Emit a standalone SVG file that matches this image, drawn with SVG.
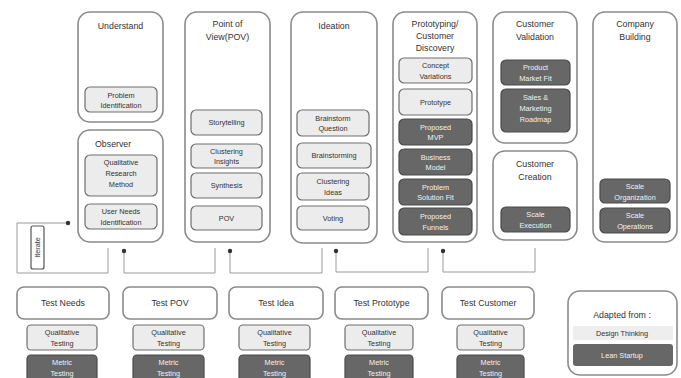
<svg xmlns="http://www.w3.org/2000/svg" width="681" height="378" viewBox="0 0 681 378">
<style>
text{font-family:"Liberation Sans","Open Sans",sans-serif;text-anchor:middle}
.outer{fill:#fff;stroke:#8a8a8a;stroke-width:1.6}
.lt{fill:#ececec;stroke:#6e6e6e;stroke-width:1.2}
.dk{fill:#676767;stroke:#4a4a4a;stroke-width:1.2}
.ttl{font-size:8.8px;fill:#333}
.tl{font-size:7.3px;fill:#333}
.td{font-size:7.3px;fill:#f2f2f2}
.con{fill:none;stroke:#9a9a9a;stroke-width:1}
.dot{fill:#333}
</style>
<rect width="681" height="378" fill="#fff"/>

<g id="understand">
<rect class="outer" x="78" y="12" width="85" height="110" rx="12"/>
<text class="ttl" x="120.5" y="29">Understand</text>
<rect class="lt" x="85" y="87" width="72" height="25" rx="5"/>
<text class="tl" x="121" y="97.5">Problem</text>
<text class="tl" x="121" y="107.5">Identification</text>
</g>

<g id="observer">
<rect class="outer" x="78" y="130" width="85" height="112" rx="12"/>
<text class="ttl" x="95" y="147" style="text-anchor:start">Observer</text>
<rect class="lt" x="85" y="155" width="72" height="41" rx="5"/>
<text class="tl" x="121" y="165">Qualitative</text>
<text class="tl" x="121" y="176">Research</text>
<text class="tl" x="121" y="187">Method</text>
<rect class="lt" x="85" y="204" width="72" height="25" rx="5"/>
<text class="tl" x="121" y="214">User Needs</text>
<text class="tl" x="121" y="224.5">Identification</text>
</g>

<g id="pov">
<rect class="outer" x="185" y="12" width="85" height="230" rx="12"/>
<text class="ttl" x="227.5" y="27">Point of</text>
<text class="ttl" x="227.5" y="40">View(POV)</text>
<rect class="lt" x="191" y="110" width="71" height="25" rx="5"/>
<text class="tl" x="226.5" y="125">Storytelling</text>
<rect class="lt" x="191" y="144" width="71" height="24" rx="5"/>
<text class="tl" x="226.5" y="154">Clustering</text>
<text class="tl" x="226.5" y="164">Insights</text>
<rect class="lt" x="191" y="173" width="71" height="25" rx="5"/>
<text class="tl" x="226.5" y="188">Synthesis</text>
<rect class="lt" x="191" y="206" width="71" height="24" rx="5"/>
<text class="tl" x="226.5" y="221">POV</text>
</g>

<g id="ideation">
<rect class="outer" x="291" y="12" width="86" height="231" rx="12"/>
<text class="ttl" x="334" y="29">Ideation</text>
<rect class="lt" x="297" y="110" width="72" height="26" rx="5"/>
<text class="tl" x="333" y="120.5">Brainstorm</text>
<text class="tl" x="333" y="131">Question</text>
<rect class="lt" x="297" y="143" width="74" height="25" rx="5"/>
<text class="tl" x="334" y="158">Brainstorming</text>
<rect class="lt" x="297" y="173" width="72" height="27" rx="5"/>
<text class="tl" x="333" y="183.5">Clustering</text>
<text class="tl" x="333" y="195">Ideas</text>
<rect class="lt" x="297" y="206" width="72" height="24" rx="5"/>
<text class="tl" x="333" y="221">Voting</text>
</g>

<g id="prototyping">
<rect class="outer" x="393" y="12" width="84" height="230" rx="12"/>
<text class="ttl" x="435" y="27">Prototyping/</text>
<text class="ttl" x="435" y="39">Customer</text>
<text class="ttl" x="435" y="51">Discovery</text>
<rect class="lt" x="399" y="58" width="73" height="25" rx="5"/>
<text class="tl" x="435.5" y="68">Concept</text>
<text class="tl" x="435.5" y="79">Variations</text>
<rect class="lt" x="399" y="89" width="73" height="26" rx="5"/>
<text class="tl" x="435.5" y="104.5">Prototype</text>
<rect class="dk" x="399" y="119" width="73" height="26" rx="5"/>
<text class="td" x="435.5" y="129.5">Proposed</text>
<text class="td" x="435.5" y="140">MVP</text>
<rect class="dk" x="399" y="149" width="73" height="26" rx="5"/>
<text class="td" x="435.5" y="159.5">Business</text>
<text class="td" x="435.5" y="170">Model</text>
<rect class="dk" x="399" y="179" width="73" height="26" rx="5"/>
<text class="td" x="435.5" y="189.5">Problem</text>
<text class="td" x="435.5" y="200">Solution Fit</text>
<rect class="dk" x="399" y="208" width="73" height="27" rx="5"/>
<text class="td" x="435.5" y="218.5">Proposed</text>
<text class="td" x="435.5" y="229.5">Funnels</text>
</g>

<g id="customer-validation">
<rect class="outer" x="493" y="12" width="84" height="131" rx="12"/>
<text class="ttl" x="535" y="27">Customer</text>
<text class="ttl" x="535" y="40">Validation</text>
<rect class="dk" x="501" y="60" width="69" height="25" rx="5"/>
<text class="td" x="535.5" y="70">Product</text>
<text class="td" x="535.5" y="81">Market Fit</text>
<rect class="dk" x="501" y="89" width="69" height="43" rx="5"/>
<text class="td" x="535.5" y="100">Sales &amp;</text>
<text class="td" x="535.5" y="111">Marketing</text>
<text class="td" x="535.5" y="122">Roadmap</text>
</g>

<g id="customer-creation">
<rect class="outer" x="493" y="151" width="84" height="89" rx="12"/>
<text class="ttl" x="535" y="167">Customer</text>
<text class="ttl" x="535" y="180">Creation</text>
<rect class="dk" x="501" y="207" width="69" height="25" rx="5"/>
<text class="td" x="535.5" y="217">Scale</text>
<text class="td" x="535.5" y="228">Execution</text>
</g>

<g id="company-building">
<rect class="outer" x="593" y="12" width="84" height="230" rx="12"/>
<text class="ttl" x="635" y="27">Company</text>
<text class="ttl" x="635" y="40">Building</text>
<rect class="dk" x="600" y="179" width="70" height="24" rx="5"/>
<text class="td" x="635" y="189">Scale</text>
<text class="td" x="635" y="199.5">Organization</text>
<rect class="dk" x="600" y="208" width="70" height="25" rx="5"/>
<text class="td" x="635" y="218">Scale</text>
<text class="td" x="635" y="229">Operations</text>
</g>

<g id="connectors">
<path class="con" d="M68,223 H17 V273 H108 V248"/>
<circle class="dot" cx="68" cy="223" r="2.2"/>
<path class="con" d="M124,251 V273 H215 V248"/>
<circle class="dot" cx="124" cy="251" r="2.2"/>
<path class="con" d="M230,251 V273 H322 V248"/>
<circle class="dot" cx="230" cy="251" r="2.2"/>
<path class="con" d="M336,251 V272 H428 V248"/>
<circle class="dot" cx="336" cy="251" r="2.2"/>
<path class="con" d="M443,251 V272 H535 V248"/>
<circle class="dot" cx="443" cy="251" r="2.2"/>
</g>

<g id="iterate">
<rect x="31" y="226" width="13" height="43" rx="2" fill="#fff" stroke="#555" stroke-width="1.2"/>
<text class="tl" transform="translate(40.2,247.5) rotate(-90)" x="0" y="0">Iterate</text>
</g>

<g id="test-needs">
<rect class="outer" x="17" y="287" width="92" height="32" rx="7"/>
<text class="ttl" x="63" y="306">Test Needs</text>
<rect class="lt" x="27" y="325" width="70" height="25" rx="4"/>
<text class="tl" x="62" y="335">Qualitative</text>
<text class="tl" x="62" y="346">Testing</text>
<rect class="dk" x="27" y="355" width="70" height="30" rx="4"/>
<text class="td" x="62" y="365">Metric</text>
<text class="td" x="62" y="376">Testing</text>
</g>

<g id="test-pov">
<rect class="outer" x="123" y="287" width="94" height="32" rx="7"/>
<text class="ttl" x="170" y="306">Test POV</text>
<rect class="lt" x="133" y="325" width="71" height="25" rx="4"/>
<text class="tl" x="168.5" y="335">Qualitative</text>
<text class="tl" x="168.5" y="346">Testing</text>
<rect class="dk" x="133" y="355" width="71" height="30" rx="4"/>
<text class="td" x="168.5" y="365">Metric</text>
<text class="td" x="168.5" y="376">Testing</text>
</g>

<g id="test-idea">
<rect class="outer" x="229" y="287" width="94" height="32" rx="7"/>
<text class="ttl" x="276" y="306">Test Idea</text>
<rect class="lt" x="239" y="325" width="71" height="25" rx="4"/>
<text class="tl" x="274.5" y="335">Qualitative</text>
<text class="tl" x="274.5" y="346">Testing</text>
<rect class="dk" x="239" y="355" width="71" height="30" rx="4"/>
<text class="td" x="274.5" y="365">Metric</text>
<text class="td" x="274.5" y="376">Testing</text>
</g>

<g id="test-prototype">
<rect class="outer" x="335" y="287" width="93" height="32" rx="7"/>
<text class="ttl" x="381.5" y="306">Test Prototype</text>
<rect class="lt" x="345" y="325" width="68" height="25" rx="4"/>
<text class="tl" x="379" y="335">Qualitative</text>
<text class="tl" x="379" y="346">Testing</text>
<rect class="dk" x="345" y="355" width="68" height="30" rx="4"/>
<text class="td" x="379" y="365">Metric</text>
<text class="td" x="379" y="376">Testing</text>
</g>

<g id="test-customer">
<rect class="outer" x="442" y="287" width="92" height="32" rx="7"/>
<text class="ttl" x="488" y="306">Test Customer</text>
<rect class="lt" x="457" y="325" width="67" height="25" rx="4"/>
<text class="tl" x="490.5" y="335">Qualitative</text>
<text class="tl" x="490.5" y="346">Testing</text>
<rect class="dk" x="457" y="355" width="67" height="30" rx="4"/>
<text class="td" x="490.5" y="365">Metric</text>
<text class="td" x="490.5" y="376">Testing</text>
</g>

<g id="legend">
<rect class="outer" x="568" y="291" width="109" height="84" rx="12"/>
<text class="ttl" x="622" y="318">Adapted from :</text>
<rect x="573" y="326" width="100" height="14" fill="#eeeeee"/>
<text class="tl" x="622" y="336">Design Thinking</text>
<rect x="573" y="344" width="100" height="22" rx="3" fill="#676767"/>
<text class="td" x="622" y="358">Lean Startup</text>
</g>
</svg>
